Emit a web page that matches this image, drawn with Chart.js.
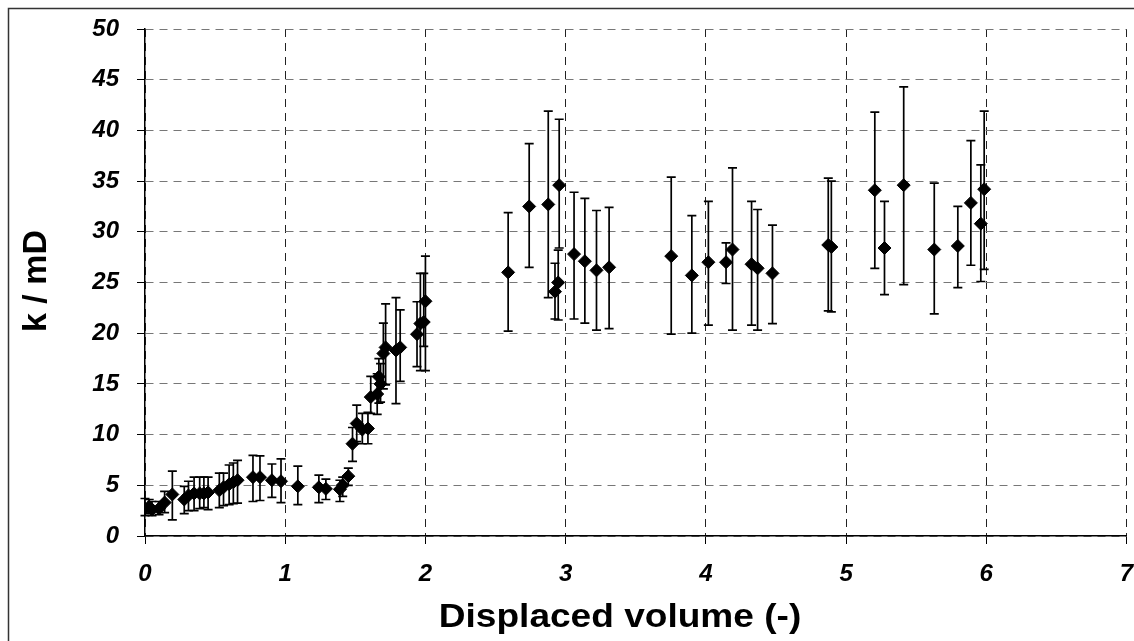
<!DOCTYPE html>
<html>
<head>
<meta charset="utf-8">
<script src="https://cdn.jsdelivr.net/npm/chart.js@4"></script>
<style>
  html, body { margin: 0; padding: 0; background: #fff; }
</style>
</head>
<body>
<canvas id="kChart" width="1134" height="641"></canvas>
<script>
// Displaced volume (-)
const volume = [
  0.00, 0.03, 0.05, 0.10, 0.14, 0.195, 0.28, 0.31, 0.35, 0.39,
  0.42, 0.45, 0.53, 0.56, 0.60, 0.63, 0.66, 0.77, 0.82, 0.905,
  0.97, 1.09, 1.24, 1.29, 1.39, 1.41, 1.45, 1.48, 1.51, 1.55,
  1.59, 1.61, 1.656, 1.668, 1.68, 1.70, 1.716, 1.79, 1.82, 1.94,
  1.964, 1.988, 2.00, 2.59, 2.74, 2.876, 2.924, 2.947, 2.954, 3.06,
  3.137, 3.22, 3.31, 3.753, 3.90, 4.018, 4.144, 4.19, 4.326, 4.369,
  4.475, 4.873, 4.895, 5.205, 5.274, 5.411, 5.629, 5.797, 5.89, 5.961,
  5.985
];
// k / mD
const perm = [
  2.7, 2.9, 2.6, 2.7, 3.3, 4.1, 3.6, 4.0, 4.2, 4.2,
  4.2, 4.3, 4.5, 4.8, 5.1, 5.3, 5.5, 5.8, 5.8, 5.5,
  5.4, 4.9, 4.8, 4.65, 4.6, 5.0, 5.9, 9.1, 11.1, 10.5,
  10.6, 13.7, 14.0, 15.7, 15.0, 18.0, 18.6, 18.3, 18.6, 19.9,
  20.95, 21.1, 23.15, 26.0, 32.5, 32.7, 24.1, 25.0, 34.6, 27.8,
  27.1, 26.2, 26.5, 27.6, 25.7, 27.0, 27.0, 28.25, 26.8, 26.4,
  25.9, 28.7, 28.5, 34.1, 28.4, 34.6, 28.25, 28.6, 32.85, 30.8,
  34.2
];
const permHigh = [
  3.7, 3.6, 3.4, 3.4, 4.4, 6.4, 4.9, 5.4, 5.8, 5.8,
  5.8, 5.8, 6.2, 6.2, 7.0, 7.2, 7.45, 7.95, 7.9, 7.1,
  7.6, 6.9, 6.0, 5.6, 5.5, 5.8, 6.7, 10.7, 12.9, 12.1,
  12.2, 15.75, 16.0, 17.5, 17.0, 21.0, 22.9, 23.5, 22.3, 23.1,
  25.9, 25.9, 27.6, 31.9, 38.7, 41.9, 26.9, 28.2, 41.1, 33.9,
  33.3, 32.1, 32.4, 35.4, 31.6, 33.0, 28.9, 36.3, 33.0, 32.2,
  30.65, 35.3, 35.0, 41.8, 33.0, 44.3, 34.8, 32.5, 39.0, 36.6,
  41.9
];
const permLow = [
  2.0, 2.2, 2.0, 2.1, 2.3, 1.6, 2.2, 2.5, 2.5, 2.7,
  2.8, 2.6, 2.8, 3.0, 3.1, 3.2, 3.25, 3.4, 3.5, 3.8,
  3.3, 3.1, 3.3, 3.6, 3.4, 3.9, 5.0, 7.35, 9.3, 9.1,
  9.1, 12.1, 12.0, 13.1, 13.2, 14.5, 14.9, 13.05, 15.25, 16.7,
  16.3, 18.7, 16.3, 20.2, 26.5, 23.5, 21.4, 21.3, 28.4, 21.4,
  21.0, 20.3, 20.45, 19.9, 20.0, 20.8, 24.9, 20.3, 20.8, 20.3,
  20.95, 22.2, 22.1, 26.4, 23.8, 24.8, 21.9, 24.5, 26.7, 25.1,
  26.3
];
const xTitle = 'Displaced volume (-)';
const yTitle = 'k / mD';

const fontFamily = '"Liberation Sans", Arial, sans-serif';

// vertical error bars with caps, drawn under the markers
const errorBars = {
  id: 'errorBars',
  beforeDatasetsDraw(chart) {
    const { ctx, scales: { x, y } } = chart;
    ctx.save();
    ctx.strokeStyle = '#000';
    ctx.lineWidth = 1.7;
    for (let i = 0; i < volume.length; i++) {
      const px = x.getPixelForValue(volume[i]);
      const top = y.getPixelForValue(permHigh[i]);
      const bot = y.getPixelForValue(permLow[i]);
      ctx.beginPath();
      ctx.moveTo(px, top); ctx.lineTo(px, bot);
      ctx.moveTo(px - 4.5, top); ctx.lineTo(px + 4.5, top);
      ctx.moveTo(px - 4.5, bot); ctx.lineTo(px + 4.5, bot);
      ctx.stroke();
    }
    ctx.restore();
  }
};

// axis titles and the outer frame
const decor = {
  id: 'decor',
  afterDraw(chart) {
    const { ctx } = chart;
    ctx.save();
    ctx.strokeStyle = '#333';
    ctx.lineWidth = 1.5;
    ctx.beginPath();
    ctx.moveTo(8.5, 700); ctx.lineTo(8.5, 8.5); ctx.lineTo(1200, 8.5);
    ctx.stroke();

    ctx.fillStyle = '#000';
    ctx.font = 'bold 34px ' + fontFamily;
    ctx.textAlign = 'center';
    ctx.textBaseline = 'middle';
    // the reference lettering is a little wider than it is tall
    ctx.save();
    ctx.translate(620, 618);
    ctx.scale(1.09, 1);
    ctx.fillText(xTitle, 0, 0);
    ctx.restore();
    ctx.translate(37, 281);
    ctx.rotate(-Math.PI / 2);
    ctx.fillText(yTitle, 0, 0);
    ctx.restore();
  }
};

const ctx = document.getElementById('kChart').getContext('2d');
new Chart(ctx, {
  type: 'scatter',
  data: {
    datasets: [{
      data: volume.map((v, i) => ({ x: v, y: perm[i] })),
      pointStyle: 'rectRot',
      pointRadius: 6.5,
      pointBackgroundColor: '#000',
      pointBorderColor: '#000',
      pointBorderWidth: 1
    }]
  },
  options: {
    responsive: false,
    animation: false,
    layout: { padding: { left: 0, top: 29, right: 4, bottom: 0 } },
    plugins: {
      legend: { display: false },
      tooltip: { enabled: false }
    },
    scales: {
      x: {
        type: 'linear',
        min: 0,
        max: 7,
        afterFit(scale) {
          scale.height = 105;
          scale.paddingLeft = 0;
          scale.paddingRight = 0;
        },
        ticks: {
          stepSize: 1,
          padding: 16,
          color: '#000',
          font: { family: fontFamily, size: 24, weight: 'bold', style: 'italic' }
        },
        grid: {
          color: '#222',
          lineWidth: 1,
          tickLength: 8,
          tickColor: '#000',
          tickBorderDash: []
        },
        border: { color: '#000', width: 1.5, dash: [8, 6] }
      },
      y: {
        min: 0,
        max: 50,
        afterFit(scale) {
          scale.width = 145;
          scale.paddingTop = 0;
          scale.paddingBottom = 0;
        },
        ticks: {
          stepSize: 5,
          padding: 18,
          color: '#000',
          font: { family: fontFamily, size: 24, weight: 'bold', style: 'italic' }
        },
        grid: {
          color: '#777',
          lineWidth: 1,
          tickLength: 8,
          tickColor: '#000',
          tickBorderDash: []
        },
        border: { color: '#000', width: 1.5, dash: [8, 6] }
      }
    }
  },
  plugins: [errorBars, decor]
});
</script>
</body>
</html>
